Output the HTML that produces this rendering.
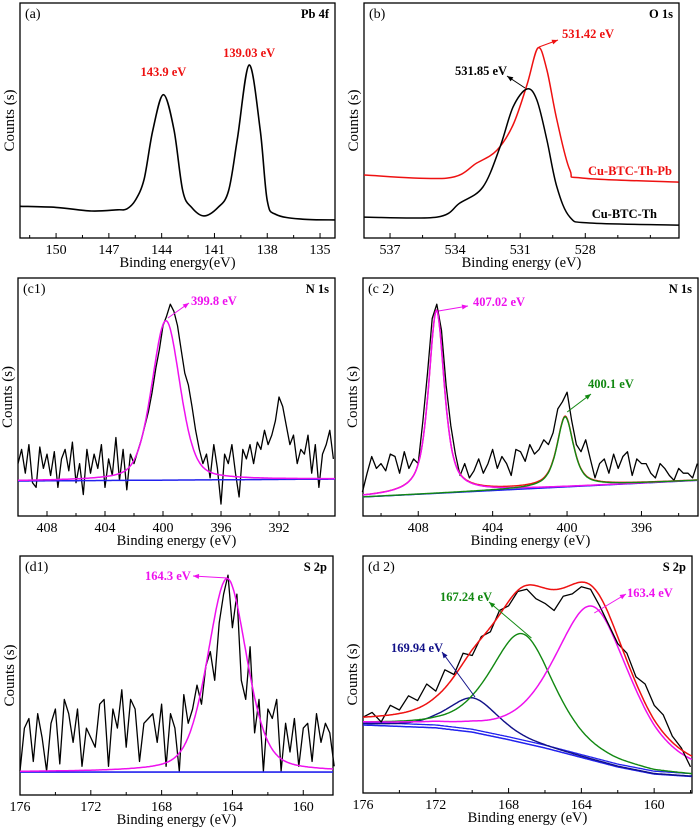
<!DOCTYPE html>
<html><head><meta charset="utf-8"><style>
html,body{margin:0;padding:0;background:#fff}
svg{display:block}
text{font-family:"Liberation Serif",serif}
</style></head><body>
<svg id="fig" width="700" height="828" viewBox="0 0 700 828" xmlns="http://www.w3.org/2000/svg"></svg>
<script>
// ---------- data ----------
// (a) Pb 4f
const aX = [152.05,150,148,146.5,146,145.5,145,144.5,143.9,143.3,142.8,142.3,141.6,140.8,140.2,139.7,139.03,138.4,138.0,137.5,136,134.15];
const aY = [13.5,13,11.5,12,12.3,16,25,46,61,46,20,13,9.4,13,20,42,73.6,46,16,10,8,7.7];
// (b) O 1s
const bRedX = [538.2,534.38,533.0,532.07,531.33,530.69,530.18,529.77,529.31,528.71,528.11,523.7];
const bRedY = [26.8,25.5,31.9,37.4,48.1,65.1,80.9,71.5,50.2,28.9,25.5,23.8];
const bBlkX = [538.2,534.84,533.78,532.72,531.93,531.33,530.69,530.23,529.77,529.31,528.71,527.79,523.7];
const bBlkY = [8.9,8.9,14.9,21.7,38.7,55.7,63.4,58.7,41.7,21.7,8.9,6.4,5.5];
// (c1) N 1s raw, 410 -> 388.25 step 0.25
const c1Start = 410, c1Step = 0.25;
const c1Y = [22,28,18,30,14,12,29,20,26,17,27,12,24,28,19,31,14,
 22,9,28,18,26,20,30,12,24,17,33,15,28,11,26,22,
 27,32,38,44,52,62,70,80,84,89,86,80,70,60,55,46,
 36,28,22,26,16,30,20,5,26,22,30,18,8,28,24,30,
 22,31,28,36,30,34,40,50,46,38,30,34,22,28,26,34,
 18,30,12,26,30,36,24];
const c1Base = [14.7,15.5];
const c1PeakC = [399.8], c1PeakH = [67], c1PeakW = [2.3];
// (c2) N 1s raw, 411 -> 393 step 0.25
const c2Start = 411, c2Step = 0.25;
const c2Y = [10,18,25,20,22,19,26,25,18,27,20,24,22,
 40,60,83,89,78,55,38,26,
 17,22,16,19,24,18,22,28,20,25,22,17,
 28,27,23,30,26,28,32,30,
 35,45,48,52,40,30,27,32,
 24,16,22,24,18,26,20,25,27,17,24,22,
 22,18,16,22,20,17,15,20,18,18,16,22];
const c2Base = [8,15];
const c2PeakC = [407.02,400.1], c2PeakH = [77,29.5], c2PeakW = [1.0,1.05];
// (d1) S 2p raw, 176 -> 158.25 step 0.25
const d1Start = 176, d1Step = 0.25;
const d1Y = [10,28,32,14,34,24,10,30,36,13,40,34,22,36,12,28,
 24,20,38,40,12,36,28,44,20,40,36,14,30,32,34,22,
 38,12,34,28,10,42,30,36,46,38,54,60,48,72,84,92,
 70,84,48,40,62,26,40,10,36,32,40,10,30,18,32,12,
 28,30,14,34,22,30,26,12];
const d1Base = [9.6,9.6];
const d1PeakC = [164.3], d1PeakH = [81], d1PeakW = [2.6];
// (d2) S 2p raw, 176 -> 158 step 0.5
const d2Start = 176, d2Step = 0.5;
const d2Y = [32,34,30,37,35,41,39,46,43,52,50,59,58,66,68,77,79,85,86,82,
 80,77,83,84,87,86,79,71,63,59,49,46,37,33,24,19,11];
const d2BgX = [176,172,170,168,166,164,162,160,158];
const d2BgY = [28.7,27.5,25.7,22.5,19,15,11,8,7];
const d2PeakC = [169.94,167.24,163.4], d2PeakH = [14.5,46,65], d2PeakW = [3.4,4.2,5.0];

// ---------- helpers ----------
const NS = "http://www.w3.org/2000/svg";
const svg = document.getElementById('fig');
function mk(tag, attrs, parent){const e=document.createElementNS(NS,tag);for(const k in attrs)e.setAttribute(k,attrs[k]);(parent||svg).appendChild(e);return e;}
function pv(x,c,h,w,eta){const d=(x-c)/w;const e=eta==null?0.35:eta;return h*(e/(1+4*d*d)+(1-e)*Math.exp(-4*Math.LN2*d*d));}
function smoothPath(pts){
  let d='M'+pts[0][0].toFixed(1)+','+pts[0][1].toFixed(1);
  for(let i=0;i<pts.length-1;i++){
    const p0=pts[Math.max(0,i-1)],p1=pts[i],p2=pts[i+1],p3=pts[Math.min(pts.length-1,i+2)];
    const c1=[p1[0]+(p2[0]-p0[0])/6,p1[1]+(p2[1]-p0[1])/6],c2=[p2[0]-(p3[0]-p1[0])/6,p2[1]-(p3[1]-p1[1])/6];
    d+=' C'+c1.map(v=>v.toFixed(1))+' '+c2.map(v=>v.toFixed(1))+' '+p2.map(v=>v.toFixed(1));
  }
  return d;
}
function linePath(pts){return 'M'+pts.map(p=>p[0].toFixed(1)+','+p[1].toFixed(1)).join(' L');}

function panel(cfg){
  const g=mk('g',{});
  
  
  const sx=v=>cfg.l+(cfg.x0-v)/(cfg.x0-cfg.x1)*(cfg.r-cfg.l);
  const sy=v=>cfg.b-v/100*(cfg.b-cfg.t);
  cfg.sx=sx;cfg.sy=sy;cfg.g=g;
  const fr=mk('rect',{x:cfg.l,y:cfg.t,width:cfg.r-cfg.l,height:cfg.b-cfg.t,fill:'none',stroke:'#000','stroke-width':1.3},g);
  
  
  for(let v=cfg.majors[0]+cfg.minor*Math.ceil((cfg.x1-cfg.majors[0])/cfg.minor);v<=cfg.x0+1e-6;v+=cfg.minor){
    const x=sx(v); if(x<cfg.l||x>cfg.r)continue;
    const isMaj=cfg.majors.some(m=>Math.abs(m-v)<1e-6);
    const t=mk('line',{x1:x,x2:x,y1:cfg.b,y2:cfg.b-(isMaj?5:3),stroke:'#000','stroke-width':1},g);
    
    
  }
  for(const m of cfg.majors){
    const t=mk('text',{x:sx(m),y:cfg.b+16,'text-anchor':'middle','font-size':14},g);
    t.textContent=m;
    
    
  }
  const xt=mk('text',{x:(cfg.l+cfg.r)/2,y:cfg.b+29,'text-anchor':'middle','font-size':14.5},g);
  xt.textContent=cfg.xtitle;
  
  
  const yc=(cfg.t+cfg.b)/2, yx=cfg.l-6;
  const yt=mk('text',{x:yx,y:yc,'text-anchor':'middle','font-size':15,transform:'rotate(-90 '+yx+' '+yc+')'},g);
  yt.textContent='Counts (s)';
  
  
  const pl=mk('text',{x:cfg.l+5,y:cfg.t+15,'font-size':14},g);
  pl.textContent=cfg.label;
  
  
  const el=mk('text',{x:cfg.r-6,y:cfg.t+15,'text-anchor':'end','font-size':12.5,'font-weight':'bold'},g);
  el.textContent=cfg.element;
  
  
  return cfg;
}
function drawPath(cfg,d,color,name,w){
  const p=mk('path',{d:d,fill:'none',stroke:color,'stroke-width':w||1.4,'stroke-linejoin':'round'},cfg.g);
  
  
  return p;
}
function note(cfg,txt,x,y,color,ax1,ay1,ax2,ay2){
  const t=mk('text',{x:x,y:y,'font-size':12.5,'font-weight':'bold',fill:color},cfg.g);
  t.textContent=txt;
  
  
  const l=mk('line',{x1:ax1,y1:ay1,x2:ax2,y2:ay2,stroke:color,'stroke-width':1},cfg.g);
  
  
  const ang=Math.atan2(ay2-ay1,ax2-ax1),L=6,W=2.5;
  const bx=ax2-L*Math.cos(ang),by=ay2-L*Math.sin(ang);
  const h=mk('polygon',{points:[ax2,ay2,bx-W*Math.sin(ang),by+W*Math.cos(ang),bx+W*Math.sin(ang),by-W*Math.cos(ang)].join(','),fill:color},cfg.g);
  
  
}
function rawPts(cfg,start,step,arr){return arr.map((v,i)=>[cfg.sx(start-i*step),cfg.sy(v)]);}
function fitPts(cfg,base,C,H,W,which,eta){
  const pts=[];
  for(let i=0;i<=300;i++){
    const x=cfg.x0-(cfg.x0-cfg.x1)*i/300;
    const bg=base[0]+(base[1]-base[0])*i/300;
    let v=bg;
    for(let k=0;k<C.length;k++){if(which==null||which===k)v+=pv(x,C[k],H[k],W[k],eta);}
    pts.push([cfg.sx(x),cfg.sy(v)]);
  }
  return pts;
}

// ---------- (a) ----------
const A=panel({name:'panel-a-pb4f',l:20,r:335,t:3,b:238,x0:152.05,x1:134.15,majors:[150,147,144,141,138,135],minor:1.5,xtitle:'Binding energy(eV)',label:'(a)',element:'Pb 4f'});
drawPath(A,smoothPath(aX.map((x,i)=>[A.sx(x),A.sy(aY[i])])),'#000','pb4f-spectrum',1.6);
(function(){const t1=mk('text',{x:A.sx(143.9),y:76,'text-anchor':'middle','font-size':12.5,'font-weight':'bold',fill:'#ee1111'},A.g);t1.textContent='143.9 eV';


const t2=mk('text',{x:A.sx(139.03),y:57,'text-anchor':'middle','font-size':12.5,'font-weight':'bold',fill:'#ee1111'},A.g);t2.textContent='139.03 eV';

})();

// ---------- (b) ----------
const B=panel({name:'panel-b-o1s',l:364,r:679,t:3,b:238,x0:538.2,x1:523.68,majors:[537,534,531,528],minor:1.5,xtitle:'Binding energy (eV)',label:'(b)',element:'O 1s'});
drawPath(B,smoothPath(bRedX.map((x,i)=>[B.sx(x),B.sy(bRedY[i])])),'#ee1111','cu-btc-th-pb-spectrum',1.5);
drawPath(B,smoothPath(bBlkX.map((x,i)=>[B.sx(x),B.sy(bBlkY[i])])),'#000','cu-btc-th-spectrum',1.5);
note(B,'531.42 eV',562,38,'#ee1111',539,47,558,40);
note(B,'531.85 eV',455,75,'#000',525,88,507,76);
(function(){const l1=mk('text',{x:672,y:175,'text-anchor':'end','font-size':12.5,'font-weight':'bold',fill:'#ee1111'},B.g);l1.textContent='Cu-BTC-Th-Pb';


const l2=mk('text',{x:657,y:218,'text-anchor':'end','font-size':12.5,'font-weight':'bold',fill:'#000'},B.g);l2.textContent='Cu-BTC-Th';

})();

// ---------- (c1) ----------
const C1=panel({name:'panel-c1-n1s',l:18,r:335,t:278,b:516,x0:410,x1:388.14,majors:[408,404,400,396,392],minor:2,xtitle:'Binding energy (eV)',label:'(c1)',element:'N 1s'});
drawPath(C1,linePath(rawPts(C1,c1Start,c1Step,c1Y)),'#000','raw-spectrum',1.3);
drawPath(C1,linePath(fitPts(C1,c1Base,[],[],[])),'#2222ee','background-line',1.5);
drawPath(C1,linePath(fitPts(C1,c1Base,c1PeakC,c1PeakH,c1PeakW)),'#ee11ee','fit-peak-399',1.5);
note(C1,'399.8 eV',191,305,'#ee11ee',C1.sx(399.8)+2,318,189,303);

// ---------- (c2) ----------
const C2=panel({name:'panel-c2-n1s',l:363,r:698,t:278,b:516,x0:410.97,x1:392.96,majors:[408,404,400,396],minor:2,xtitle:'Binding energy (eV)',label:'(c 2)',element:'N 1s'});
drawPath(C2,linePath(rawPts(C2,c2Start,c2Step,c2Y)),'#000','raw-spectrum',1.3);
drawPath(C2,linePath(fitPts(C2,c2Base,[],[],[])),'#2222ee','background-line',1.5);
drawPath(C2,linePath(fitPts(C2,c2Base,c2PeakC,c2PeakH,c2PeakW,null,0.7)),'#ee1111','fit-envelope',1.4);
drawPath(C2,linePath(fitPts(C2,c2Base,c2PeakC,c2PeakH,c2PeakW,0,0.7)),'#ee11ee','fit-peak-407',1.5);
drawPath(C2,linePath(fitPts(C2,c2Base,c2PeakC,c2PeakH,c2PeakW,1,0.7)),'#118811','fit-peak-400',1.4);
note(C2,'407.02 eV',473,306,'#ee11ee',C2.sx(407.02)+2,311,468,306);
note(C2,'400.1 eV',588,388,'#118811',C2.sx(400.1)+2,412,591,394);

// ---------- (d1) ----------
const D1=panel({name:'panel-d1-s2p',l:20,r:333,t:556,b:795,x0:176,x1:158.32,majors:[176,172,168,164,160],minor:2,xtitle:'Binding energy (eV)',label:'(d1)',element:'S 2p'});
drawPath(D1,linePath(rawPts(D1,d1Start,d1Step,d1Y)),'#000','raw-spectrum',1.3);
drawPath(D1,linePath(fitPts(D1,d1Base,[],[],[])),'#2222ee','background-line',1.6);
drawPath(D1,linePath(fitPts(D1,d1Base,d1PeakC,d1PeakH,d1PeakW)),'#ee11ee','fit-peak-164',1.5);
note(D1,'164.3 eV',145,580,'#ee11ee',D1.sx(164.3),578,193,576);

// ---------- (d2) ----------
const D2=panel({name:'panel-d2-s2p',l:363,r:692,t:556,b:793,x0:176,x1:157.92,majors:[176,172,168,164,160],minor:2,xtitle:'Binding energy (eV)',label:'(d 2)',element:'S 2p'});
function bgAt(x){for(let i=0;i<d2BgX.length-1;i++){if(x<=d2BgX[i]&&x>=d2BgX[i+1]){const f=(d2BgX[i]-x)/(d2BgX[i]-d2BgX[i+1]);return d2BgY[i]+(d2BgY[i+1]-d2BgY[i])*f;}}return d2BgY[d2BgY.length-1];}
function d2Pts(which,off){const pts=[];for(let i=0;i<=300;i++){const x=D2.x0-(D2.x0-D2.x1)*i/300;let v=bgAt(x)+(off||0);if(which!==-1){for(let k=0;k<d2PeakC.length;k++){if(which==null||which===k)v+=pv(x,d2PeakC[k],d2PeakH[k],d2PeakW[k],0.55);}}pts.push([D2.sx(x),D2.sy(v)]);}return pts;}
drawPath(D2,linePath(d2Pts(-1,0)),'#2222ee','background-line',1.5);
drawPath(D2,linePath(d2Pts(-1,1.2)),'#2222ee','background-line-2',1.3);
drawPath(D2,linePath(d2Pts(0)),'#111188','fit-peak-169',1.4);
drawPath(D2,linePath(d2Pts(1)),'#118811','fit-peak-167',1.4);
drawPath(D2,linePath(d2Pts(2)),'#ee11ee','fit-peak-163',1.5);
drawPath(D2,linePath(rawPts(D2,d2Start,d2Step,d2Y)),'#000','raw-spectrum',1.3);
drawPath(D2,linePath(d2Pts(null)),'#ee1111','fit-envelope',1.5);
note(D2,'167.24 eV',440,601,'#118811',D2.sx(167.24)+9,638,489,602);
note(D2,'169.94 eV',391,652,'#111188',475,697,442,652);
note(D2,'163.4 eV',627,597,'#ee11ee',D2.sx(163.4)+2,613,626,594);
</script>
</body></html>
